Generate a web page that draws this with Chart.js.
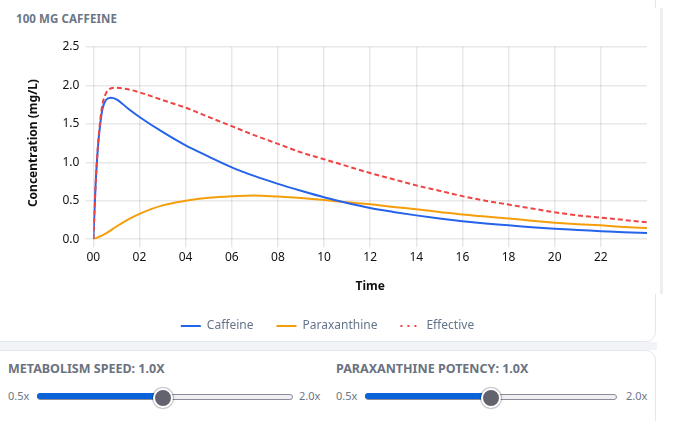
<!DOCTYPE html>
<html>
<head>
<meta charset="utf-8">
<script src="https://cdn.jsdelivr.net/npm/chart.js@4"></script>
<style>
  html, body { margin: 0; padding: 0; background: #ffffff; width: 685px; height: 421px; overflow: hidden; font-family: 'Noto Sans', sans-serif; }
  .cardA { position: absolute; left: -20px; top: -20px; width: 674px; height: 360px; background: #fff; border: 1px solid #e3e7ee; border-radius: 10px; }
  .chartwrap { position: absolute; left: 0; top: 8px; width: 660px; height: 286px; background: #fff; border-right: 3px solid #eceef2; }
  .band { position: absolute; left: 0; top: 342px; width: 657px; height: 8px; background: #f1f3f7; }
  .cardC { position: absolute; left: -20px; top: 350px; width: 674px; height: 100px; background: #fff; border: 1px solid #e3e7ee; border-radius: 10px; }
  .title { position: absolute; left: 16px; top: 11px; font-size: 11.5px; font-weight: 700; color: #6b7687; letter-spacing: 0.1px; }
  #cv { position: absolute; left: 0; top: 0; }
  .slabel { position: absolute; font-size: 12.5px; font-weight: 700; color: #6b7280; top: 360px; }
  .smin, .smax { position: absolute; font-size: 11px; color: #6b7687; top: 388px; }
  .track { position: absolute; height: 4px; top: 394px; background: #efeff3; border: 1px solid #8a8c98; border-radius: 3px; }
  .fill { position: absolute; height: 6px; top: 393px; background: #0a63d8; border-radius: 3px; }
  .thumb { position: absolute; width: 16px; height: 16px; top: 388px; border-radius: 50%; background: #62636f; border: 2px solid #fff; box-shadow: 0 0 1px 1px rgba(0,0,0,0.25); }
</style>
</head>
<body>
<div class="cardA"></div>
<div class="chartwrap"></div>
<div class="band"></div>
<div class="cardC"></div>
<div class="title">100 MG CAFFEINE</div>
<div style="position:absolute;left:0;top:0;width:655px;height:342px;"><canvas id="cv"></canvas></div>

<div class="slabel" style="left:8px;">METABOLISM SPEED: 1.0X</div>
<div class="smin" style="left:8px;">0.5x</div>
<div class="track" style="left:37px;width:254px;"></div>
<div class="fill" style="left:37px;width:128px;"></div>
<div class="thumb" style="left:153px;"></div>
<div class="smax" style="left:299px;">2.0x</div>

<div class="slabel" style="left:336px;">PARAXANTHINE POTENCY: 1.0X</div>
<div class="smin" style="left:336px;">0.5x</div>
<div class="track" style="left:365px;width:250px;"></div>
<div class="fill" style="left:365px;width:126px;"></div>
<div class="thumb" style="left:481px;"></div>
<div class="smax" style="left:626px;">2.0x</div>

<script>
const timeHours = [0, 0.05, 0.1, 0.2, 0.3, 0.4, 0.55, 0.75, 1, 1.5, 2, 3, 4, 5, 6, 7, 8, 9, 10, 11, 12, 13, 14, 15, 16, 17, 18, 19, 20, 21, 22, 23, 24];
const caffeine = [0, 0.37, 0.72, 1.20, 1.50, 1.70, 1.81, 1.84, 1.82, 1.70, 1.59, 1.395, 1.22, 1.075, 0.935, 0.82, 0.72, 0.63, 0.545, 0.47, 0.405, 0.355, 0.31, 0.27, 0.235, 0.205, 0.18, 0.155, 0.135, 0.12, 0.105, 0.09, 0.08];
const paraxanthine = [0, 0.005, 0.012, 0.025, 0.038, 0.05, 0.075, 0.115, 0.165, 0.255, 0.33, 0.44, 0.50, 0.54, 0.56, 0.57, 0.555, 0.535, 0.51, 0.48, 0.455, 0.42, 0.39, 0.355, 0.32, 0.295, 0.27, 0.24, 0.215, 0.195, 0.18, 0.16, 0.145];
const effective = [0, 0.37, 0.72, 1.22, 1.55, 1.76, 1.90, 1.96, 1.97, 1.95, 1.91, 1.81, 1.71, 1.59, 1.47, 1.35, 1.24, 1.13, 1.04, 0.95, 0.86, 0.78, 0.70, 0.63, 0.56, 0.50, 0.45, 0.40, 0.35, 0.31, 0.28, 0.25, 0.22];
const seriesNames = ['Caffeine', 'Paraxanthine', 'Effective'];
const xTickLabels = ['00', '02', '04', '06', '08', '10', '12', '14', '16', '18', '20', '22'];
const yTickLabels = ['0.0', '0.5', '1.0', '1.5', '2.0', '2.5'];

const toPts = arr => timeHours.map((t, i) => ({ x: t, y: arr[i] }));

Chart.defaults.font.family = "'Noto Sans', sans-serif";
Chart.defaults.font.size = 12;

new Chart(document.getElementById('cv'), {
  type: 'line',
  data: {
    datasets: [
      { label: seriesNames[0], data: toPts(caffeine), borderColor: '#2563eb', backgroundColor: '#2563eb', borderWidth: 2, pointRadius: 0, cubicInterpolationMode: 'monotone', order: 1 },
      { label: seriesNames[1], data: toPts(paraxanthine), borderColor: '#f59e0b', backgroundColor: '#f59e0b', borderWidth: 2, pointRadius: 0, cubicInterpolationMode: 'monotone', order: 2 },
      { label: seriesNames[2], data: toPts(effective), borderColor: '#ef4444', backgroundColor: '#ef4444', borderWidth: 2, borderDash: [5, 3], pointRadius: 0, cubicInterpolationMode: 'monotone', order: 0 }
    ]
  },
  options: {
    responsive: true,
    maintainAspectRatio: false,
    animation: false,
    layout: { padding: { top: 47, right: 8, bottom: 0, left: 8 } },
    plugins: {
      tooltip: { enabled: false },
      legend: {
        position: 'bottom',
        labels: {
          usePointStyle: true,
          pointStyle: 'line',
          pointStyleWidth: 20,
          padding: 23,
          color: '#64748b',
          font: { size: 12 },
          sort: (a, b) => a.datasetIndex - b.datasetIndex,
          generateLabels(chart) {
            const items = Chart.defaults.plugins.legend.labels.generateLabels(chart);
            items.forEach(it => {
              it.pointStyle = 'line';
              if (it.datasetIndex === 2) it.lineDash = [2, 5];
            });
            return items;
          }
        }
      }
    },
    scales: {
      x: {
        type: 'linear',
        min: 0,
        max: 24,
        afterBuildTicks(scale) {
          scale.ticks = xTickLabels.map(l => ({ value: parseInt(l, 10) }));
        },
        ticks: {
          color: '#111',
          maxRotation: 0,
          autoSkip: false,
          callback: (v) => xTickLabels.find(l => parseInt(l, 10) === v)
        },
        grid: { color: 'rgba(0,0,0,0.09)', lineWidth: 1.5 },
        border: { display: false },
        title: { display: true, text: 'Time', color: '#111', font: { weight: 'bold', size: 12 }, padding: { top: 12, bottom: 3 } }
      },
      y: {
        min: 0,
        max: 2.5,
        afterBuildTicks(scale) {
          scale.ticks = yTickLabels.map(l => ({ value: parseFloat(l) }));
        },
        ticks: {
          color: '#111',
          padding: 6,
          callback: (v) => yTickLabels.find(l => parseFloat(l) === v)
        },
        grid: { color: 'rgba(0,0,0,0.09)', lineWidth: 1.5 },
        border: { display: false },
        title: { display: true, text: 'Concentration (mg/L)', color: '#111', font: { weight: 'bold', size: 12 }, padding: { top: 18, bottom: 16 } }
      }
    }
  }
});
</script>
</body>
</html>
